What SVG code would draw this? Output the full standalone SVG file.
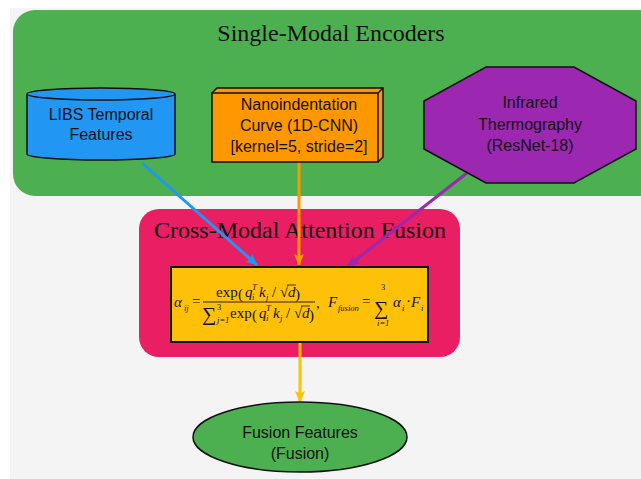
<svg xmlns="http://www.w3.org/2000/svg" width="641" height="479" viewBox="0 0 641 479">
  <style>
    .lbl { font-family: "Liberation Sans", Arial, sans-serif; font-size: 16px; fill: #111; text-anchor: middle; }
    .ttl { font-family: "Liberation Serif", "Times New Roman", serif; font-size: 24px; fill: #111; text-anchor: middle; }
    .m { font-family: "Liberation Serif", "Times New Roman", serif; font-size: 15px; fill: #111; }
    .mi { font-family: "Liberation Serif", "Times New Roman", serif; font-size: 15px; font-style: italic; fill: #111; }
    .s { font-family: "Liberation Serif", "Times New Roman", serif; font-size: 8.5px; font-style: italic; fill: #111; }
    .sn { font-family: "Liberation Serif", "Times New Roman", serif; font-size: 8.5px; fill: #111; }
    .big { font-family: "Liberation Serif", "Times New Roman", serif; font-size: 20px; fill: #111; }
    .node { stroke: #111; stroke-width: 1.5; }
    .edge { fill: none; stroke-width: 3; }
  </style>
  <defs>
    <marker id="ahBlue" viewBox="0 0 12 10" refX="11" refY="5" markerWidth="12" markerHeight="10" markerUnits="userSpaceOnUse" orient="auto">
      <path d="M0,0 L12,5 L0,10 L2.5,5 z" fill="#2196f3"/>
    </marker>
    <marker id="ahOrange" viewBox="0 0 12 10" refX="11" refY="5" markerWidth="12" markerHeight="10" markerUnits="userSpaceOnUse" orient="auto">
      <path d="M0,0 L12,5 L0,10 L2.5,5 z" fill="#ff9800"/>
    </marker>
    <marker id="ahPurple" viewBox="0 0 12 10" refX="11" refY="5" markerWidth="12" markerHeight="10" markerUnits="userSpaceOnUse" orient="auto">
      <path d="M0,0 L12,5 L0,10 L2.5,5 z" fill="#9c27b0"/>
    </marker>
    <marker id="ahGold" viewBox="0 0 12 10" refX="11" refY="5" markerWidth="12" markerHeight="10" markerUnits="userSpaceOnUse" orient="auto">
      <path d="M0,0 L12,5 L0,10 L2.5,5 z" fill="#ffc107"/>
    </marker>
  </defs>

  <!-- page -->
  <rect x="0" y="0" width="641" height="479" fill="#ffffff"/>
  <rect x="10" y="8" width="631" height="471" fill="#f4f4f4"/>

  <!-- encoder cluster -->
  <g id="cluster_encoders">
    <rect x="13" y="10" width="650" height="186" rx="22" fill="#4caf50"/>
    <text class="ttl" x="331" y="41">Single-Modal Encoders</text>
  </g>

  <!-- fusion cluster -->
  <g id="cluster_fusion">
    <rect x="139" y="209" width="321" height="148" rx="20" fill="#e91e63"/>
    <text class="ttl" x="300" y="238">Cross-Modal Attention Fusion</text>
  </g>

  <!-- connectors -->
  <g id="connectors">
    <line class="edge" x1="142" y1="163" x2="257" y2="265" stroke="#2196f3" marker-end="url(#ahBlue)"/>
    <line class="edge" x1="299" y1="162" x2="299" y2="265" stroke="#ff9800" marker-end="url(#ahOrange)"/>
    <line class="edge" x1="467" y1="173" x2="348" y2="266" stroke="#9c27b0" marker-end="url(#ahPurple)"/>
    <line class="edge" x1="300" y1="343" x2="300" y2="402" stroke="#ffc107" marker-end="url(#ahGold)"/>
  </g>

  <!-- LIBS cylinder -->
  <g id="libs">
    <path class="node" d="M27,94 L27,154 A74,6 0 0 0 175,154 L175,94" fill="#2196f3"/>
    <ellipse class="node" cx="101" cy="94" rx="74" ry="6" fill="#2196f3"/>
    <text class="lbl" x="101" y="120">LIBS Temporal</text>
    <text class="lbl" x="101" y="140">Features</text>
  </g>

  <!-- nanoindentation box -->
  <g id="nano">
    <path class="node" d="M212,93 L217,88 L383,88 L383,157 L378,162" fill="#ff9800"/>
    <rect class="node" x="212" y="93" width="166" height="69" fill="#ff9800"/>
    <line class="node" x1="378" y1="93" x2="383" y2="88"/>
    <text class="lbl" x="299" y="110">Nanoindentation</text>
    <text class="lbl" x="299" y="131">Curve (1D-CNN)</text>
    <text class="lbl" x="299" y="152">[kernel=5, stride=2]</text>
  </g>

  <!-- infrared octagon -->
  <g id="infrared">
    <polygon class="node" points="486,67 574,67 636,101 636,149 574,183 486,183 424,149 424,101" fill="#9c27b0"/>
    <text class="lbl" x="530" y="108">Infrared</text>
    <text class="lbl" x="530" y="130">Thermography</text>
    <text class="lbl" x="530" y="151">(ResNet-18)</text>
  </g>

  <!-- attention formula -->
  <g id="attention">
    <rect x="171" y="267" width="257" height="75" fill="#ffc107" stroke="#111" stroke-width="2"/>
    <!-- alpha_ij = -->
    <text class="mi" x="174" y="307" font-size="16">α</text>
    <text class="s" x="184" y="311">ij</text>
    <text class="m" x="192" y="306" font-size="16">=</text>
    <!-- numerator -->
    <text class="m" x="216" y="297">exp</text>
    <text class="m" x="238" y="299" font-size="21">(</text>
    <text class="mi" x="245" y="297">q</text>
    <text class="s" x="252" y="290">T</text>
    <text class="s" x="252" y="300">i</text>
    <text class="mi" x="259" y="297">k</text>
    <text class="s" x="266" y="300">j</text>
    <text class="m" x="272" y="297">/</text>
    <text class="m" x="280" y="297">√</text>
    <line x1="287" y1="285" x2="296" y2="285" stroke="#111" stroke-width="0.8"/>
    <text class="mi" x="288" y="297">d</text>
    <text class="m" x="295" y="299" font-size="21">)</text>
    <!-- fraction bar -->
    <line x1="203" y1="302" x2="315" y2="302" stroke="#111" stroke-width="0.9"/>
    <!-- denominator -->
    <text class="big" x="202" y="321" font-size="22">∑</text>
    <text class="sn" x="217" y="310">3</text>
    <text class="s" x="217" y="323">j<tspan class="sn">=1</tspan></text>
    <text class="m" x="230" y="318">exp</text>
    <text class="m" x="252" y="320" font-size="21">(</text>
    <text class="mi" x="259" y="318">q</text>
    <text class="s" x="266" y="311">T</text>
    <text class="s" x="266" y="321">i</text>
    <text class="mi" x="273" y="318">k</text>
    <text class="s" x="280" y="321">j</text>
    <text class="m" x="286" y="318">/</text>
    <text class="m" x="294" y="318">√</text>
    <line x1="301" y1="306" x2="310" y2="306" stroke="#111" stroke-width="0.8"/>
    <text class="mi" x="302" y="318">d</text>
    <text class="m" x="309" y="320" font-size="21">)</text>
    <text class="m" x="316" y="308">,</text>
    <!-- F_fusion = sum alpha_i F_i -->
    <text class="mi" x="328" y="307" font-size="16">F</text>
    <text class="s" x="338" y="311">fusion</text>
    <text class="m" x="362" y="306" font-size="16">=</text>
    <text class="big" x="374" y="315" font-size="24">∑</text>
    <text class="sn" x="381" y="290">3</text>
    <text class="s" x="377" y="326">i<tspan class="sn">=1</tspan></text>
    <text class="mi" x="393" y="307" font-size="16">α</text>
    <text class="s" x="402" y="311">i</text>
    <text class="m" x="406" y="306">·</text>
    <text class="mi" x="411" y="307" font-size="16">F</text>
    <text class="s" x="421" y="311">i</text>
  </g>

  <!-- fused output -->
  <g id="fusion_features">
    <ellipse class="node" cx="300" cy="437" rx="107" ry="35" fill="#4caf50"/>
    <text class="lbl" x="300" y="438">Fusion Features</text>
    <text class="lbl" x="300" y="459">(Fusion)</text>
  </g>
</svg>
